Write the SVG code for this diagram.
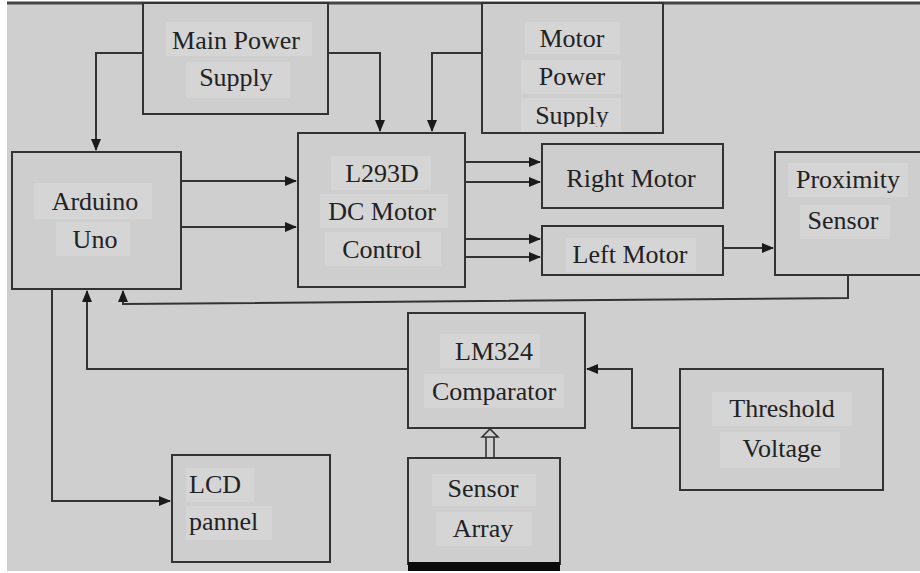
<svg xmlns="http://www.w3.org/2000/svg" width="920" height="573" viewBox="0 0 920 573">
<style>
.box{fill:#cecece;stroke:#333;stroke-width:2}
.tb{fill:#d5d5d5}
.t{font-family:"Liberation Serif","Times New Roman",serif;font-size:26px;fill:#222;text-anchor:middle}
.tl{text-anchor:start}
.c{fill:none;stroke:#333;stroke-width:2}
</style>
<defs>
<marker id="ah" markerWidth="12" markerHeight="10" refX="11" refY="5" orient="auto" markerUnits="userSpaceOnUse">
<path d="M0,0 L12,5 L0,10 Z" fill="#1a1a1a"/>
</marker>
<clipPath id="mpsClip"><rect x="482" y="3" width="181" height="124"/></clipPath>
</defs>
<rect x="0" y="0" width="920" height="573" fill="#ffffff"/>
<rect x="7" y="3" width="913" height="568" fill="#cfcfcf"/>
<line x1="7" y1="3" x2="920" y2="3" stroke="#444" stroke-width="3"/>

<g id="connectors">
<path class="c" d="M143,53 H96 V150" marker-end="url(#ah)"/>
<path class="c" d="M328,53 H380 V131" marker-end="url(#ah)"/>
<path class="c" d="M482,53 H432 V131" marker-end="url(#ah)"/>
<path class="c" d="M181,181 H296" marker-end="url(#ah)"/>
<path class="c" d="M181,227 H296" marker-end="url(#ah)"/>
<path class="c" d="M465,162 H540" marker-end="url(#ah)"/>
<path class="c" d="M465,182 H540" marker-end="url(#ah)"/>
<path class="c" d="M465,239 H540" marker-end="url(#ah)"/>
<path class="c" d="M465,257 H540" marker-end="url(#ah)"/>
<path class="c" d="M723,248 H773" marker-end="url(#ah)"/>
<path class="c" d="M848,275 V298 L123,304 V291" marker-end="url(#ah)"/>
<path class="c" d="M408,369 H87 V291" marker-end="url(#ah)"/>
<path class="c" d="M680,428 H632 V369 H587" marker-end="url(#ah)"/>
<path class="c" d="M52,289 V501 H170" marker-end="url(#ah)"/>
<path d="M486,458 V437 M494,458 V437 M482,437 L490,429 L498,437 Z" fill="none" stroke="#333" stroke-width="1.6"/>
</g>

<g id="main-power">
<rect class="box" x="143" y="3" width="185" height="111"/>
<rect class="tb" x="166" y="22" width="146" height="34"/>
<rect class="tb" x="186" y="62" width="104" height="36"/>
<text class="t" x="236" y="49">Main Power</text>
<text class="t" x="236" y="86">Supply</text>
</g>

<g id="motor-power">
<rect class="box" x="482" y="3" width="181" height="130"/>
<rect class="tb" x="525" y="22" width="95" height="32"/>
<rect class="tb" x="521" y="60" width="100" height="34"/>
<rect class="tb" x="521" y="98" width="100" height="34"/>
<text class="t" x="572" y="47">Motor</text>
<text class="t" x="572" y="85">Power</text>
<text class="t" x="572" y="124" clip-path="url(#mpsClip)">Supply</text>
</g>

<g id="arduino">
<rect class="box" x="12" y="152" width="169" height="137"/>
<rect class="tb" x="34" y="183" width="118" height="36"/>
<rect class="tb" x="56" y="222" width="74" height="34"/>
<text class="t" x="95" y="210">Arduino</text>
<text class="t" x="95" y="248">Uno</text>
</g>

<g id="l293d">
<rect class="box" x="298" y="133" width="167" height="154"/>
<rect class="tb" x="331" y="156" width="100" height="34"/>
<rect class="tb" x="320" y="194" width="128" height="34"/>
<rect class="tb" x="325" y="232" width="116" height="34"/>
<text class="t" x="382" y="182">L293D</text>
<text class="t" x="382" y="220">DC Motor</text>
<text class="t" x="382" y="258">Control</text>
</g>

<g id="right-motor">
<rect class="box" x="542" y="144" width="181" height="64"/>
<text class="t" x="631" y="187">Right Motor</text>
</g>

<g id="left-motor">
<rect class="box" x="542" y="226" width="181" height="49"/>
<rect class="tb" x="566" y="238" width="130" height="34"/>
<text class="t" x="630" y="263">Left Motor</text>
</g>

<g id="proximity">
<rect class="box" x="775" y="152" width="148" height="123"/>
<rect class="tb" x="788" y="163" width="120" height="34"/>
<rect class="tb" x="800" y="205" width="90" height="34"/>
<text class="t" x="848" y="188">Proximity</text>
<text class="t" x="843" y="229">Sensor</text>
</g>

<g id="lm324">
<rect class="box" x="408" y="313" width="177" height="115"/>
<rect class="tb" x="440" y="334" width="100" height="34"/>
<rect class="tb" x="424" y="374" width="140" height="34"/>
<text class="t" x="494" y="360">LM324</text>
<text class="t" x="494" y="400">Comparator</text>
</g>

<g id="threshold">
<rect class="box" x="680" y="369" width="203" height="121"/>
<rect class="tb" x="712" y="392" width="140" height="34"/>
<rect class="tb" x="720" y="432" width="120" height="36"/>
<text class="t" x="782" y="417">Threshold</text>
<text class="t" x="782" y="457">Voltage</text>
</g>

<g id="sensor-array">
<rect class="box" x="408" y="458" width="152" height="106"/>
<rect x="408" y="562" width="152" height="9" fill="#0a0a0a"/>
<rect class="tb" x="432" y="474" width="104" height="32"/>
<rect class="tb" x="436" y="512" width="96" height="34"/>
<text class="t" x="483" y="497">Sensor</text>
<text class="t" x="483" y="537">Array</text>
</g>

<g id="lcd">
<rect class="box" x="172" y="455" width="158" height="107"/>
<rect class="tb" x="186" y="468" width="68" height="34"/>
<rect class="tb" x="186" y="506" width="86" height="34"/>
<text class="t tl" x="189" y="493">LCD</text>
<text class="t tl" x="189" y="530">pannel</text>
</g>
</svg>
